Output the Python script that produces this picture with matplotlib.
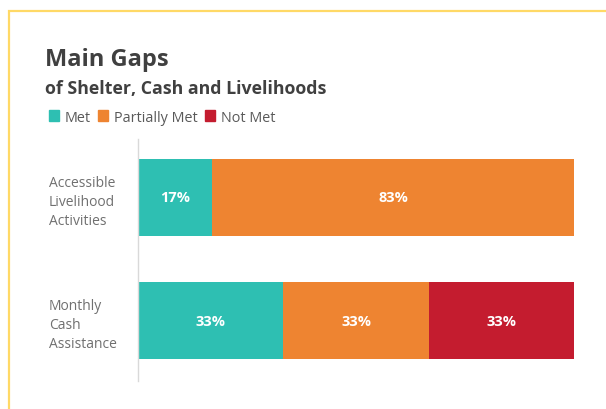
import numpy as np
import matplotlib
matplotlib.use("Agg")
import matplotlib.pyplot as plt
from matplotlib.patches import Rectangle, Patch

plt.rcParams['font.family'] = ['Open Sans', 'DejaVu Sans']

# Data for the stacked bars
categories = ["Accessible\nLivelihood\nActivities", "Monthly\nCash\nAssistance"]
status = ["Met", "Partially Met", "Not Met"]
met = [17, 33.3]
partially_met = [83, 33.3]
not_met = [0, 33.3]
colors = ["#2EBFB2", "#EE8431", "#C41C2F"]

W, H = 606, 410
fig = plt.figure(figsize=(W / 100, H / 100), dpi=100)

# yellow frame around the panel
fig.patches.append(Rectangle((9 / W, -0.1), 1.2, 1 - 12 / H + 0.1, transform=fig.transFigure,
                             fill=False, edgecolor="#FFD966", linewidth=1.6))

ax = fig.add_axes([138 / W, 1 - 382 / H, (574 - 138) / W, (382 - 140) / H])

y = np.arange(len(categories))
left = np.zeros(len(categories))
for name, vals, c in zip(status, [met, partially_met, not_met], colors):
    bars = ax.barh(y, vals, left=left, height=0.626, color=c, label=name)
    for b, v in zip(bars, vals):
        if v > 0:
            ax.text(b.get_x() + b.get_width() / 2, b.get_y() + b.get_height() / 2,
                    "{:.0f}%".format(v), ha="center", va="center",
                    color="white", fontsize=10.5, fontweight="bold")
    left += np.array(vals)

ax.set_xlim(0, 99.9)
ax.set_ylim(1.49, -0.475)
ax.set_xticks([])
ax.set_yticks(y)
ax.set_yticklabels(categories, ha="left", fontsize=10, color="#707070", linespacing=1.38)
ax.tick_params(axis="y", length=0, pad=64)
for s in ["top", "right", "bottom"]:
    ax.spines[s].set_visible(False)
ax.spines["left"].set_color("#D9D9D9")
ax.spines["left"].set_linewidth(1)

fig.text(45 / W, 1 - 66 / H, "Main Gaps", fontsize=17, fontweight="bold", color="#404040", va="baseline")
fig.text(45 / W, 1 - 94 / H, "of Shelter, Cash and Livelihoods", fontsize=12.8, fontweight="bold",
         color="#404040", va="baseline")

handles = [Patch(color=c) for c in colors]
fig.legend(handles, status, loc="center left", bbox_to_anchor=(49 / W, 1 - 118 / H), ncol=3,
           frameon=False, fontsize=10.4, labelcolor="#595959", handlelength=0.7, handleheight=0.7,
           handletextpad=0.4, columnspacing=0.5, borderpad=0, borderaxespad=0)

fig.savefig("out.png", dpi=100, facecolor="white")
